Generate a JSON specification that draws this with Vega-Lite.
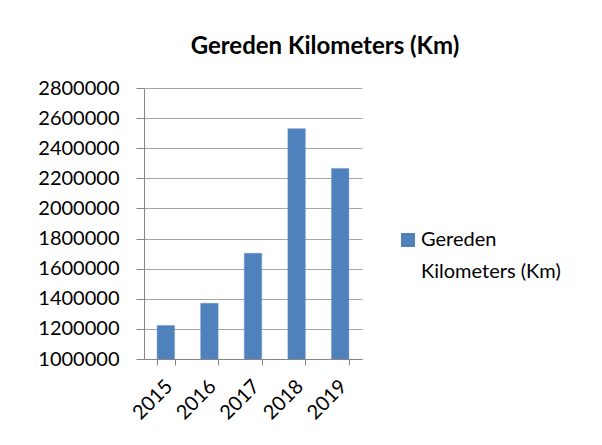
{
  "$schema": "https://vega.github.io/schema/vega-lite/v6.json",
  "width": 218,
  "height": 271,
  "autosize": {"type": "none"},
  "padding": {"left": 144, "top": 88, "right": 240, "bottom": 86},
  "background": "white",
  "title": {
    "text": "Gereden Kilometers (Km)",
    "font": "Lato",
    "fontSize": 24,
    "fontWeight": "bold",
    "color": "#000000",
    "anchor": "middle",
    "dx": 72,
    "offset": 0,
    "baseline": "alphabetic"
  },
  "data": {
    "values": [
      {"jaar": "2015", "km": 1223000, "reeks": "Gereden Kilometers (Km)"},
      {"jaar": "2016", "km": 1370000, "reeks": "Gereden Kilometers (Km)"},
      {"jaar": "2017", "km": 1702000, "reeks": "Gereden Kilometers (Km)"},
      {"jaar": "2018", "km": 2530000, "reeks": "Gereden Kilometers (Km)"},
      {"jaar": "2019", "km": 2266000, "reeks": "Gereden Kilometers (Km)"}
    ]
  },
  "mark": {"type": "bar", "stroke": "#6f95c8", "strokeWidth": 0.5, "clip": true},
  "encoding": {
    "x": {
      "field": "jaar",
      "type": "ordinal",
      "scale": {"paddingInner": 0.6, "paddingOuter": 0.3},
      "axis": {
        "title": null,
        "labelAngle": -45,
        "labelFont": "Lato",
        "labelFontSize": 20,
        "labelColor": "#000000",
        "labelPadding": 11,
        "labelOffset": -4,
        "tickBand": "extent",
        "tickSize": 6,
        "tickColor": "#868686",
        "domainColor": "#868686",
        "grid": false
      }
    },
    "y": {
      "field": "km",
      "type": "quantitative",
      "scale": {"domain": [1000000, 2800000], "nice": false, "zero": false},
      "axis": {
        "title": null,
        "values": [1000000, 1200000, 1400000, 1600000, 1800000, 2000000, 2200000, 2400000, 2600000, 2800000],
        "format": "d",
        "labelFont": "Lato",
        "labelFontSize": 20,
        "labelColor": "#000000",
        "labelPadding": 17,
        "tickSize": 8,
        "tickColor": "#868686",
        "domainColor": "#868686",
        "grid": true,
        "gridColor": "#a6a6a6",
        "labelOverlap": false
      }
    },
    "color": {
      "field": "reeks",
      "type": "nominal",
      "scale": {"range": ["#4f81bd"]},
      "legend": {
        "title": null,
        "orient": "none",
        "legendX": 254,
        "legendY": 142,
        "symbolType": "square",
        "symbolSize": 196,
        "symbolStrokeWidth": 0,
        "labelFont": "Lato",
        "labelFontSize": 20,
        "labelColor": "#000000",
        "labelLimit": 300,
        "labelOffset": 3,
        "labelBaseline": "middle",
        "labelExpr": "['Gereden', 'Kilometers (Km)']"
      }
    }
  },
  "config": {
    "view": {"stroke": null},
    "style": {"guide-label": {"lineHeight": 32}}
  }
}
